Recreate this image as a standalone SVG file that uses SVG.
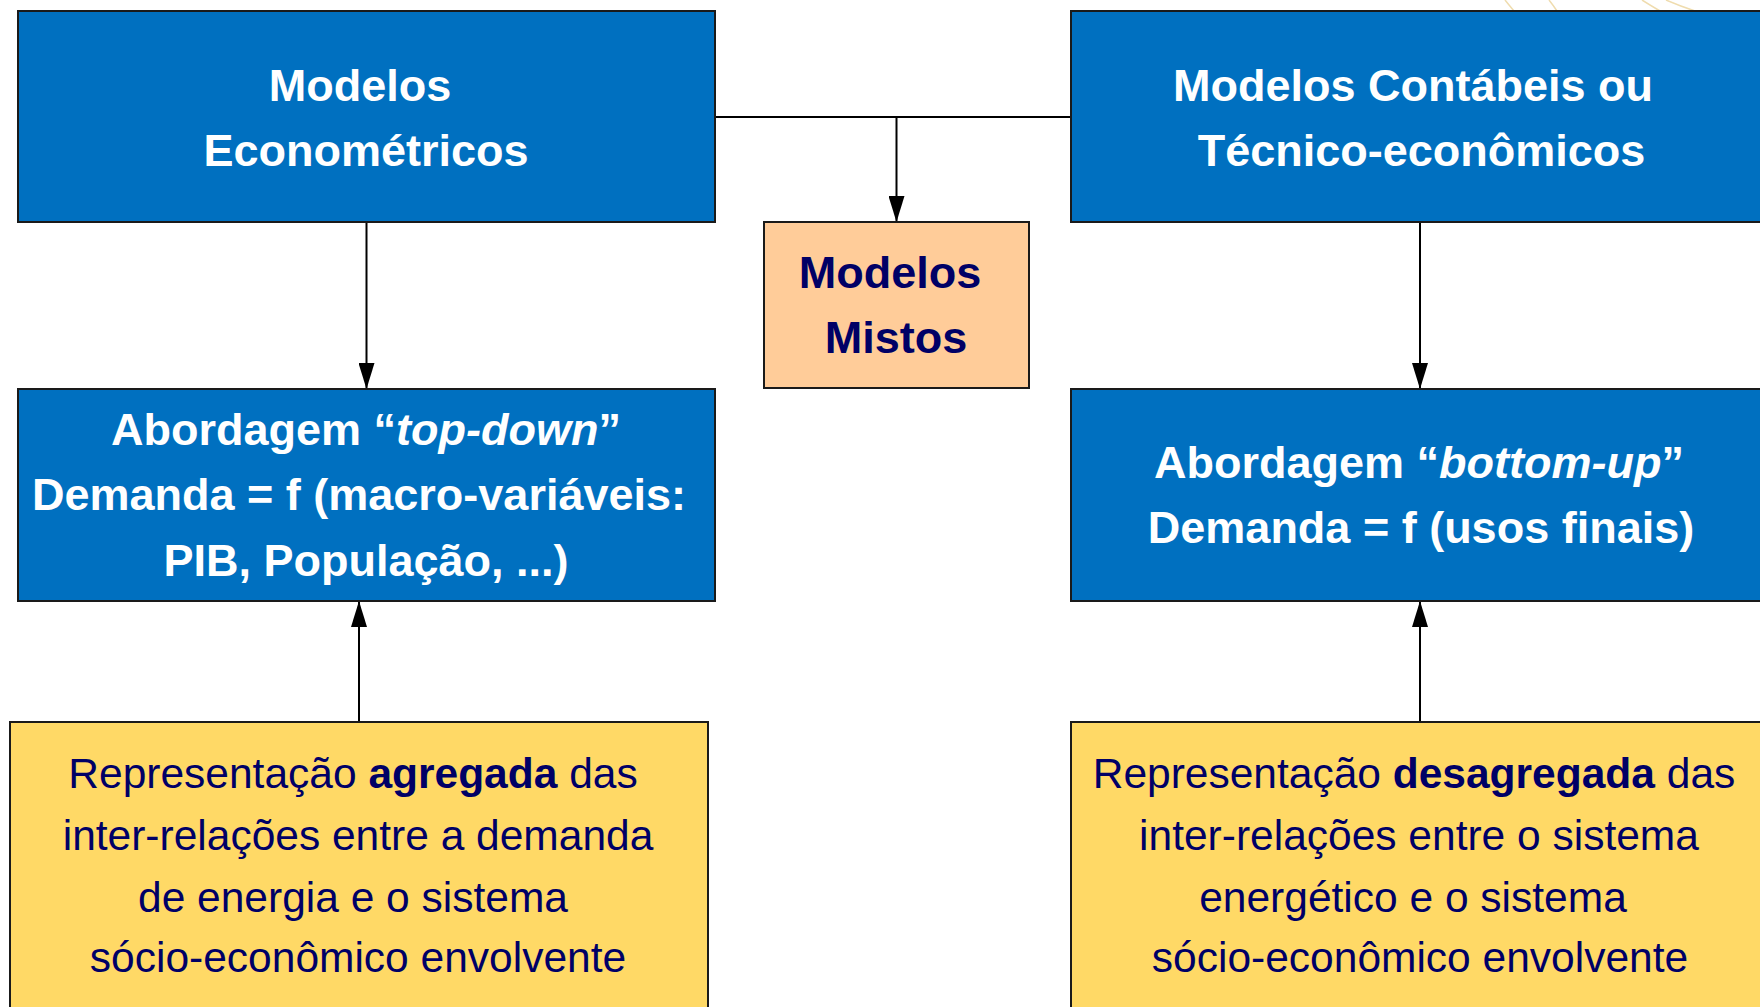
<svg xmlns="http://www.w3.org/2000/svg" width="1760" height="1007" viewBox="0 0 1760 1007">
<defs>
<style>
.blue{fill:#0070C0;stroke:#1a1a1a;stroke-width:2}
.peach{fill:#FFCC99;stroke:#1a1a1a;stroke-width:2}
.yellow{fill:#FFD966;stroke:#1a1a1a;stroke-width:2}
.tw{font-family:"Liberation Sans",Arial,sans-serif;font-size:45px;font-weight:bold;fill:#FFFFFF;text-anchor:middle}
.tn{font-family:"Liberation Sans",Arial,sans-serif;font-size:45px;font-weight:bold;fill:#000066;text-anchor:middle}
.ty{font-family:"Liberation Sans",Arial,sans-serif;font-size:42.5px;fill:#000066;text-anchor:middle}
.b{font-weight:bold}
.i{font-style:italic}
.line{fill:none;stroke:#000;stroke-width:2}
.deco{fill:none;stroke:#EFDCAE;stroke-width:1.5}
</style>
<marker id="arr" markerUnits="userSpaceOnUse" markerWidth="26" markerHeight="16" refX="26" refY="8" orient="auto">
<path d="M0,0 L26,8 L0,16 Z" fill="#000"/>
</marker>
</defs>
<rect width="1760" height="1007" fill="#FFFFFF"/>
<g id="decoration">
<path class="deco" d="M1505,0 Q1509,5 1514,11"/>
<path class="deco" d="M1549,0 Q1553,5 1557,11"/>
<path class="deco" d="M1642,0 Q1650,5 1660,11"/>
<path class="deco" d="M1666,0 Q1680,6 1695,11"/>
</g>
<g id="connectors">
<path class="line" d="M715,117 H1071"/>
<path class="line" d="M896.5,117 V222" marker-end="url(#arr)"/>
<path class="line" d="M366.5,222 V389" marker-end="url(#arr)"/>
<path class="line" d="M1420,222 V389" marker-end="url(#arr)"/>
<path class="line" d="M359,722 V601" marker-end="url(#arr)"/>
<path class="line" d="M1420,722 V601" marker-end="url(#arr)"/>
</g>
<g id="node-econometricos">
<rect class="blue" x="18" y="11" width="697" height="211"/>
<text class="tw" x="360" y="101">Modelos</text>
<text class="tw" x="366" y="166">Econométricos</text>
</g>
<g id="node-contabeis">
<rect class="blue" x="1071" y="11" width="697" height="211"/>
<text class="tw" x="1413" y="101">Modelos Contábeis ou</text>
<text class="tw" x="1421.5" y="166">Técnico-econômicos</text>
</g>
<g id="node-mistos">
<rect class="peach" x="764" y="222" width="265" height="166"/>
<text class="tn" x="890" y="288">Modelos</text>
<text class="tn" x="896" y="353">Mistos</text>
</g>
<g id="node-topdown">
<rect class="blue" x="18" y="389" width="697" height="212"/>
<text class="tw" x="366" y="445">Abordagem “<tspan class="i">top-down</tspan>”</text>
<text class="tw" x="359" y="510">Demanda = f (macro-variáveis:</text>
<text class="tw" x="366" y="576">PIB, População, ...)</text>
</g>
<g id="node-bottomup">
<rect class="blue" x="1071" y="389" width="697" height="212"/>
<text class="tw" x="1419" y="478">Abordagem “<tspan class="i">bottom-up</tspan>”</text>
<text class="tw" x="1421" y="543">Demanda = f (usos finais)</text>
</g>
<g id="node-agregada">
<rect class="yellow" x="10" y="722" width="698" height="320"/>
<text class="ty" x="353" y="788">Representação <tspan class="b">agregada</tspan> das</text>
<text class="ty" x="358" y="850">inter-relações entre a demanda</text>
<text class="ty" x="353" y="912">de energia e o sistema</text>
<text class="ty" x="358" y="972">sócio-econômico envolvente</text>
</g>
<g id="node-desagregada">
<rect class="yellow" x="1071" y="722" width="698" height="320"/>
<text class="ty" x="1414" y="788">Representação <tspan class="b">desagregada</tspan> das</text>
<text class="ty" x="1419" y="850">inter-relações entre o sistema</text>
<text class="ty" x="1413" y="912">energético e o sistema</text>
<text class="ty" x="1420" y="972">sócio-econômico envolvente</text>
</g>
</svg>
